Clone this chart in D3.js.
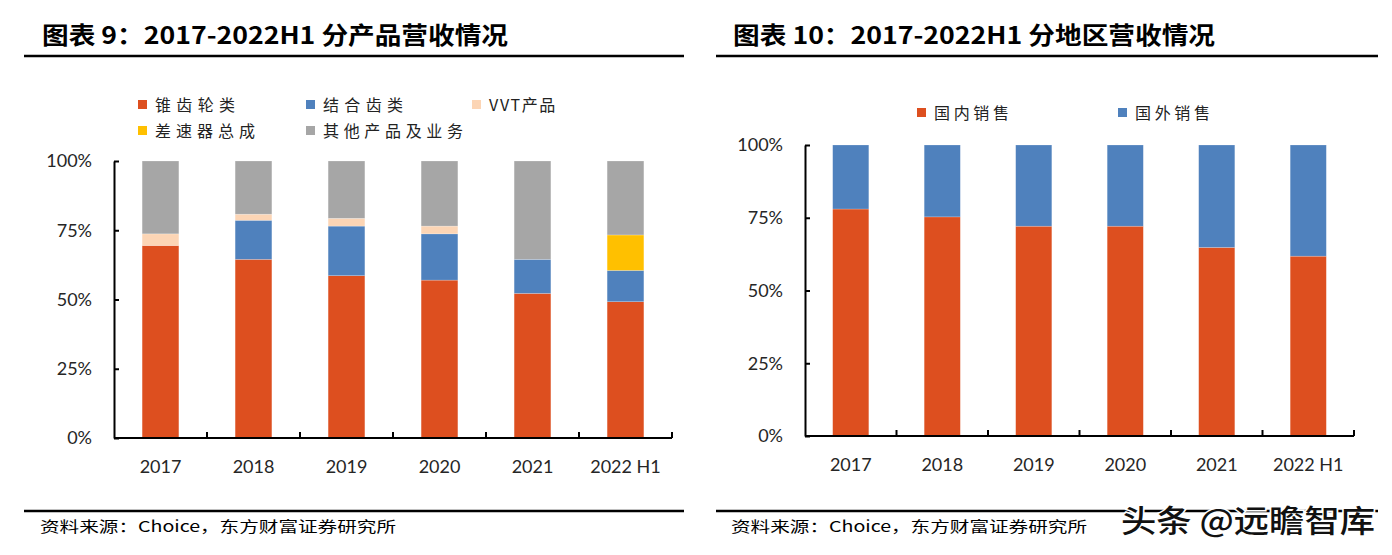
<!DOCTYPE html>
<html><head><meta charset="utf-8">
<script src="https://cdn.jsdelivr.net/npm/d3@7/dist/d3.min.js"></script>
<style>
html,body{margin:0;padding:0;background:#fff;}
svg{display:block;}
</style>
</head><body>
<svg id="c" width="1392" height="555"></svg>
<script>
// ---------- data ----------
const categories = ["2017","2018","2019","2020","2021","2022 H1"];
const productKeys = ["锥齿轮类","结合齿类","VVT产品","差速器总成","其他产品及业务"];
const bevelGear   = [69.5, 64.5, 58.6, 57.0, 52.2, 49.2];
const couplingGear= [0.0, 14.1, 17.9, 16.7, 12.3, 11.3];
const vvtProduct  = [4.2, 2.2, 2.8, 2.8, 0.0, 0.0];
const differential= [0.0, 0.0, 0.0, 0.0, 0.0, 12.8];
const otherBiz    = [26.3, 19.2, 20.7, 23.5, 35.5, 26.7];
const regionKeys = ["国内销售","国外销售"];
const domestic = [78.0, 75.3, 72.1, 72.1, 64.8, 61.8];
const overseas = [22.0, 24.7, 27.9, 27.9, 35.2, 38.2];
const yTicks = [0, 25, 50, 75, 100];
const yTickLabels = ["0%","25%","50%","75%","100%"];

const productColors = ["#DD4F1F","#4F81BD","#FCD5B5","#FFC000","#A6A6A6"];
const regionColors = ["#DD4F1F","#4F81BD"];

const svg = d3.select("#c");
const CJK = "'Noto Sans CJK SC','Noto Sans',sans-serif";
const NUM = "Lato,'Liberation Sans',sans-serif";

function header(x0, x1, tx, tlen, title){
  svg.append("text").attr("x", tx).attr("y", 44).text(title)
    .attr("font-family", CJK).attr("font-weight", 700).attr("font-size", 24)
    .attr("fill", "#000").attr("textLength", tlen).attr("lengthAdjust","spacingAndGlyphs");
  svg.append("line").attr("x1", x0).attr("x2", x1).attr("y1", 56).attr("y2", 56)
    .attr("stroke", "#000").attr("stroke-width", 2.5);
  svg.append("line").attr("x1", x0).attr("x2", x1).attr("y1", 511).attr("y2", 511)
    .attr("stroke", "#000").attr("stroke-width", 2.5);
  svg.append("text").attr("x", tx - 2).attr("y", 532).text("资料来源：Choice，东方财富证券研究所")
    .attr("font-family", CJK).attr("font-size", 15).attr("fill", "#000")
    .attr("textLength", 356).attr("lengthAdjust","spacingAndGlyphs");
}

function chart(opts){
  const {x0, x1, yTop, yBot, keys, series, colors} = opts;
  const rows = categories.map((c,i)=>{
    const r = {cat:c};
    keys.forEach((k,j)=> r[k] = series[j][i]);
    return r;
  });
  const x = d3.scaleBand().domain(categories).range([x0, x1])
    .paddingInner(0.605).paddingOuter(0.3025);
  const y = d3.scaleLinear().domain([0,100]).range([yBot, yTop]);
  const stack = d3.stack().keys(keys)(rows);
  const g = svg.append("g");
  g.selectAll("g.s").data(stack).join("g").attr("fill", (d,i)=>colors[i])
    .selectAll("rect").data(d=>d).join("rect")
    .attr("x", d=>x(d.data.cat)).attr("width", x.bandwidth())
    .attr("y", d=>y(d[1])).attr("height", d=>Math.max(0, y(d[0]) - y(d[1])))
    .attr("stroke", "#fff").attr("stroke-opacity", 0.35).attr("stroke-width", 0.6);

  // y axis
  const ya = g.append("g").attr("transform", `translate(${x0},0)`)
    .call(d3.axisLeft(y).tickValues(yTicks).tickFormat((d,i)=>yTickLabels[i])
      .tickSize(-5).tickSizeOuter(0).tickPadding(22));
  ya.select(".domain").attr("stroke", "#000").attr("stroke-width", 2);
  ya.selectAll(".tick line").attr("stroke", "#000").attr("stroke-width", 2);
  ya.selectAll("text").attr("font-family", NUM).attr("font-size", 18).attr("fill", "#262626");

  // x axis
  const xa = g.append("g").attr("transform", `translate(0,${yBot})`)
    .call(d3.axisBottom(x).tickSize(0).tickPadding(22));
  xa.select(".domain").remove();
  xa.selectAll("text").attr("font-family", NUM).attr("font-size", 18).attr("fill", "#262626");
  g.append("line").attr("x1", x0).attr("x2", x1).attr("y1", yBot).attr("y2", yBot)
    .attr("stroke", "#000").attr("stroke-width", 2);
  const gap = (x.step() - x.bandwidth())/2;
  const bounds = categories.map(c => x(c) + x.bandwidth() + gap);
  g.selectAll("line.xt").data(bounds).join("line").attr("class","xt")
    .attr("x1", d=>d).attr("x2", d=>d).attr("y1", yBot).attr("y2", yBot - 6)
    .attr("stroke", "#000").attr("stroke-width", 2);
}

function legendItem(sx, sy, color, label, tlen){
  svg.append("rect").attr("x", sx).attr("y", sy - 5).attr("width", 9).attr("height", 9).attr("fill", color);
  const t = svg.append("text").attr("x", sx + 17).attr("y", sy + 6).text(label)
    .attr("font-family", CJK).attr("font-size", 16).attr("fill", "#222");
  if (tlen) t.attr("textLength", tlen).attr("lengthAdjust", "spacing");
  else t.attr("letter-spacing", 1.5);
}

// ---------- left ----------
header(24, 684, 42, 466, "图表 9：2017-2022H1 分产品营收情况");
chart({x0:114, x1:672, yTop:161, yBot:438, keys:productKeys,
  series:[bevelGear, couplingGear, vvtProduct, differential, otherBiz], colors:productColors});
legendItem(138, 105, productColors[0], productKeys[0], 80);
legendItem(306, 105, productColors[1], productKeys[1], 80);
legendItem(472, 105, productColors[2], productKeys[2], 0);
legendItem(138, 131, productColors[3], productKeys[3], 100);
legendItem(306, 131, productColors[4], productKeys[4], 140);

// ---------- right ----------
header(716, 1378, 733, 482, "图表 10：2017-2022H1 分地区营收情况");
chart({x0:805, x1:1354, yTop:145, yBot:436, keys:regionKeys,
  series:[domestic, overseas], colors:regionColors});
legendItem(917, 113, regionColors[0], regionKeys[0], 75);
legendItem(1118, 113, regionColors[1], regionKeys[1], 75);

// watermark
svg.append("text").attr("x", 1121).attr("y", 532).text("头条 @远瞻智库")
  .attr("font-family", CJK).attr("font-size", 31).attr("font-weight", 500).attr("fill", "#111")
  .attr("stroke", "#fff").attr("stroke-width", 3).attr("paint-order", "stroke")
  .attr("textLength", 254).attr("lengthAdjust", "spacingAndGlyphs");
</script>
</body></html>
